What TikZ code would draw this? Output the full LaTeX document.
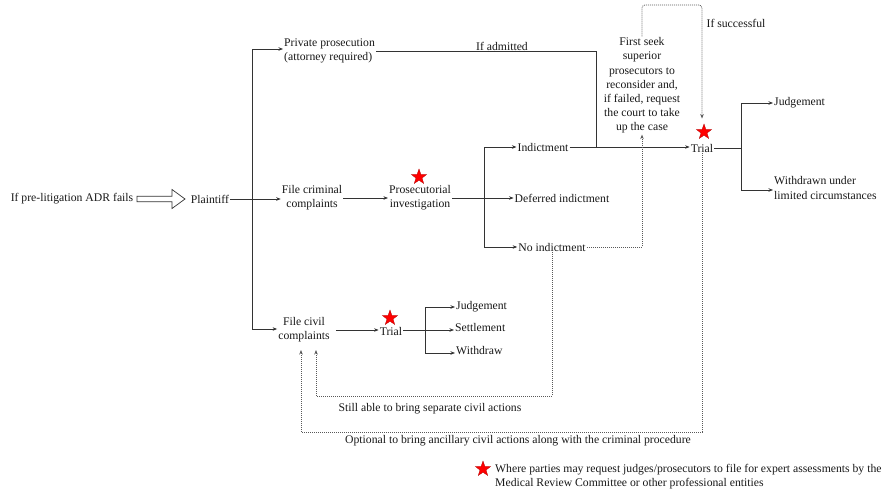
\documentclass[tikz,border=0pt]{standalone}
\usepackage{fontspec}
\setmainfont{Liberation Serif}
\usetikzlibrary{shapes.geometric,arrows.meta}
\begin{document}
\begin{tikzpicture}[x=1pt,y=-1pt,
  every node/.style={font=\fontsize{11.7}{14.2}\selectfont, text=black!90, inner sep=1pt},
  txt/.style={align=center},
  ln/.style={draw=black!80, line width=0.7pt},
  arr/.style={ln, -{Stealth[length=4.5pt,width=3.5pt]}},
  dot/.style={draw=black!65, line width=0.75pt, dash pattern=on 1pt off 1pt},
  darr/.style={dot, -{Stealth[length=4.5pt,width=3.5pt]}},
  mstar/.style={star, star points=5, star point ratio=2.5, fill=red, draw=red!70!black, line width=0.3pt, minimum size=16pt, inner sep=0pt},
]
\useasboundingbox[fill=white] (0,0) rectangle (884,492);

% nodes
\node (adr) at (72,199) {If pre-litigation ADR fails};
\node (plaintiff) at (210,199) {Plaintiff};
\node[align=left, anchor=west] (pp) at (283,51) {Private prosecution\\(attorney required)};
\node[txt] (fcc) at (312,198) {File criminal\\complaints};
\node[txt] (pi) at (420,198) {Prosecutorial\\investigation};
\node (ind) at (543,147) {Indictment};
\node (def) at (562,198) {Deferred indictment};
\node (noind) at (552,247) {No indictment};
\node[txt] (fs) at (642,85.5) {First seek\\superior\\prosecutors to\\reconsider and,\\if failed, request\\the court to take\\up the case};
\node (trial1) at (702,148) {Trial};
\node[anchor=west] (j1) at (773,103) {Judgement};
\node[align=left, anchor=west] (wd1) at (773,188) {Withdrawn under\\limited circumstances};
\node[txt] (fciv) at (304,330) {File civil\\complaints};
\node (trial2) at (391,331) {Trial};
\node[anchor=west] (j2) at (455,307) {Judgement};
\node[anchor=west] (s2) at (454,327) {Settlement};
\node[anchor=west] (w2) at (455,351) {Withdraw};

% labels
\node (ifadm) at (502,46) {If admitted};
\node (ifsucc) at (736,23) {If successful};
\node (still) at (430,409) {Still able to bring separate civil actions};
\node (opt) at (518,441) {Optional to bring ancillary civil actions along with the criminal procedure};

% stars
\node[mstar] (st1) at (419,177) {};
\node[mstar] (st2) at (704,132) {};
\node[mstar] (st3) at (390,318) {};
\node[mstar] (st4) at (483,469) {};
\node[anchor=west, align=left] (legend) at (494,477) {Where parties may request judges/prosecutors to file for expert assessments by the\\Medical Review Committee or other professional entities};

% hollow arrow
\draw[ln, fill=white] (137,196.2) -- (172,196.2) -- (172,189.5) -- (185,199) -- (172,208.5) -- (172,201.8) -- (137,201.8) -- cycle;

% coordinates
\coordinate (b1) at (252,199);
\coordinate (b2) at (484,198);
\coordinate (jn) at (596,147);
\coordinate (b3) at (741,148);
\coordinate (b4) at (425,330);
\coordinate (tl) at (642,5);
\coordinate (tr) at (702,5);
\coordinate (o1) at (702,432);
\coordinate (o2) at (301,432);
\coordinate (c1) at (301,350);
\coordinate (s1) at (552,396);
\coordinate (s2c) at (316,396);
\coordinate (c2) at (316,350);

% solid connectors
\draw[arr] (plaintiff.east) -- (plaintiff.east -| fcc.west);
\draw[arr] (b1) |- ([yshift=2pt]pp.west);
\draw[arr] (b1) |- ([yshift=1pt]fciv.west);
\draw[arr] (fcc.east) -- (fcc.east -| pi.west);
\draw[arr] (pi.east) -- (def.west);
\draw[arr] (b2) |- (ind.west);
\draw[arr] (b2) |- (noind.west);
\draw[arr] (ind.east) -- (ind.east -| trial1.west);
\draw[ln] (pp.east) -| (jn);
\draw[ln] (trial1.east) -- (b3);
\draw[arr] (b3) |- (j1.west);
\draw[arr] (b3) |- ([yshift=-2pt]wd1.west);
\draw[arr, shorten <=5pt] (fciv.east |- b4) -- (trial2.west |- b4);
\draw[ln] (trial2.east |- b4) -- (b4);
\draw[arr] (b4) |- (j2.west);
\draw[arr] (b4) -- (b4 -| s2.west);
\draw[arr] (b4) |- ([yshift=-2pt]w2.west);

% dotted connectors
\draw[darr, rounded corners=3pt, shorten >=5pt] (fs.north) -- (tl) -- (tr) -- (tr |- st2.north);
\draw[darr] (noind.east) -| (fs.south);
\draw[darr] (trial1.south) -- (o1) -- (o2) -- (c1);
\draw[darr] (noind.south) -- (s1) -- (s2c) -- (c2);
\end{tikzpicture}
\end{document}
